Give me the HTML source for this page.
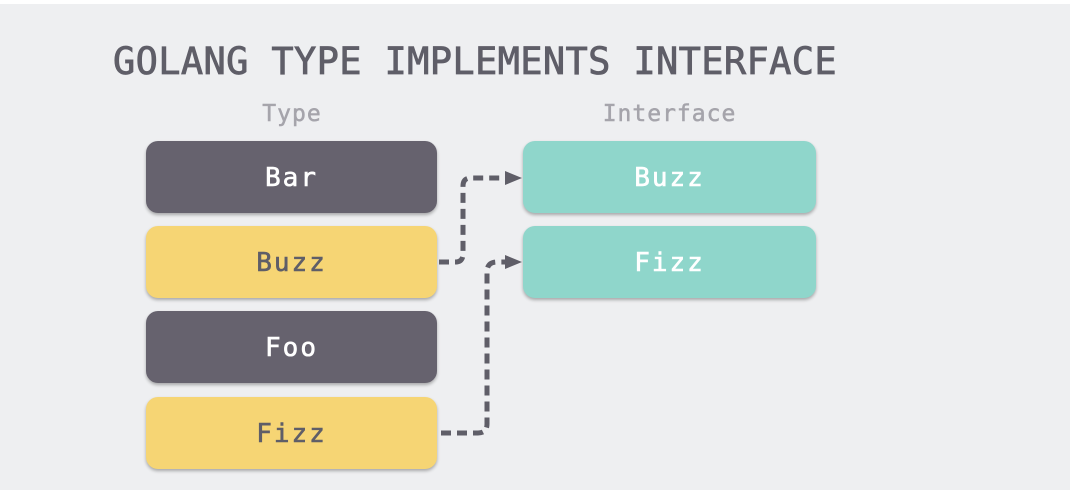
<!DOCTYPE html>
<html><head><style>
html,body{margin:0;padding:0}
body{width:1070px;height:492px;background:#fff;position:relative;overflow:hidden;font-family:"DejaVu Sans Mono","Liberation Mono",monospace}
.bg{position:absolute;left:0;top:4px;width:1070px;height:486px;background:#eeeff1}
.t{position:absolute;left:113px;top:40px;font-size:37px;color:#5f5e68;white-space:nowrap;-webkit-text-stroke:0.8px #5f5e68;letter-spacing:0.35px}
.h{position:absolute;top:101px;font-size:23px;color:#a5a4ab;letter-spacing:1px;text-align:center;-webkit-text-stroke:0.5px #a5a4ab}
.b{position:absolute;border-radius:12px;color:#fff;font-size:26px;text-align:center;line-height:75px;height:72px;letter-spacing:2px;box-shadow:0 2px 3px rgba(0,0,0,0.3);-webkit-text-stroke:0.6px}
.d{background:#66626e}.y{background:#f6d574;color:#5f5e68}.g{background:#8fd6cb}
</style></head><body>
<div class="bg"></div>
<div class="t">GOLANG TYPE IMPLEMENTS INTERFACE</div>
<div class="h" style="left:146px;width:292px">Type</div>
<div class="h" style="left:523px;width:293px">Interface</div>
<div class="b d" style="left:146px;top:141px;width:291px">Bar</div>
<div class="b y" style="left:146px;top:226px;width:291px">Buzz</div>
<div class="b d" style="left:146px;top:311px;width:291px">Foo</div>
<div class="b y" style="left:146px;top:397px;width:291px">Fizz</div>
<div class="b g" style="left:523px;top:141px;width:293px">Buzz</div>
<div class="b g" style="left:523px;top:226px;width:293px">Fizz</div>
<svg width="1070" height="492" style="position:absolute;left:0;top:0">
<g fill="none" stroke="#5f5e68" stroke-width="5" stroke-dasharray="10 6">
<path d="M439 262 H455 Q463 262 463 254 V186 Q463 178 471 178 H508"/>
<path d="M441 433 H478 Q487 433 487 424 V272 Q487 262 497 262 H508"/>
</g>
<g fill="#5f5e68">
<polygon points="505,171 522,178 505,185"/>
<polygon points="505,255 522,262 505,269"/>
</g>
</svg>
</body></html>
